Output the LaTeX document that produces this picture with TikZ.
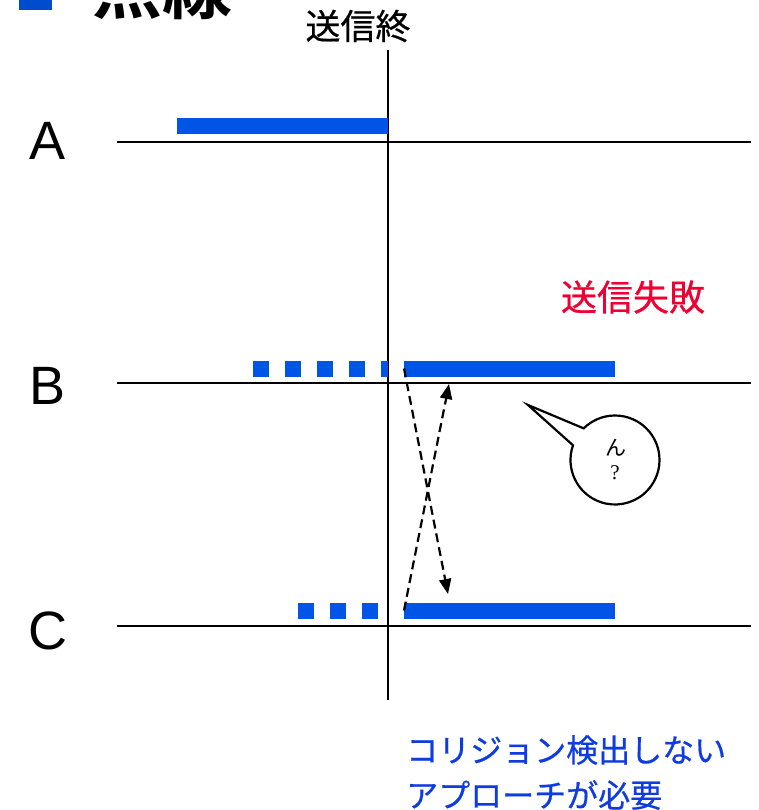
\documentclass[tikz,border=0pt]{standalone}
\usepackage{fontspec}
\setmainfont{Liberation Sans}
\newfontfamily\serifq{Liberation Serif}
\newfontfamily\cjk[FakeBold=0.6]{Noto Sans CJK JP}
\newfontfamily\cjkthin{Noto Sans CJK JP}
\newfontfamily\cjkbold{Noto Sans CJK JP Bold}
\usetikzlibrary{arrows.meta,shapes.callouts}
\definecolor{barblue}{RGB}{0,85,230}
\definecolor{txtblue}{RGB}{15,60,225}
\definecolor{txtred}{RGB}{240,0,50}
\tikzset{
  axis/.style={line width=2.6pt,black},
  barbox/.style={fill=barblue,draw=none,inner sep=0pt,minimum height=16pt,anchor=west},
  dot/.style={barbox,minimum width=16pt},
  lbl/.style={font=\fontsize{54}{60}\selectfont,inner sep=0pt,anchor=base},
  msg/.style={dashed,dash pattern=on 9pt off 5pt,line width=2.2pt,-{Triangle[length=15pt,width=12pt]}},
}
\begin{document}
\begin{tikzpicture}[x=1pt,y=-1pt]
\useasboundingbox (0,0) rectangle (759,810);
% top-left cut heading
\fill[barblue!90!black] (19,-25) rectangle (52,10);
\node[inner sep=0pt,font=\cjkbold\fontsize{70}{80}\selectfont] (head) at (162,-13) {点線};
\node[inner sep=0pt,font=\cjk\fontsize{35}{40}\selectfont] (end) at (358,26) {送信終};
% axes
\coordinate (vtop) at (388,50);
\coordinate (vbot) at (388,700);
\draw[axis] (vtop) -- (vbot);
\coordinate (aL) at (117,142); \coordinate (aR) at (751,142);
\coordinate (bL) at (117,383); \coordinate (bR) at (751,383);
\coordinate (cL) at (117,626); \coordinate (cR) at (751,626);
\draw[axis] (aL) -- (aR);
\draw[axis] (bL) -- (bR);
\draw[axis] (cL) -- (cR);
% labels
\node[lbl] (A) at (48,160) {A};
\node[lbl] (B) at (48,404) {B};
\node[lbl] (C) at (48,649) {C};
% A bar
\node[barbox,minimum width=211pt] (barA) at (177,126.5) {};
% B dots and bar
\node[dot] (b1) at (253,368.5) {};
\node[dot] (b2) at (285,368.5) {};
\node[dot] (b3) at (317,368.5) {};
\node[dot] (b4) at (349,368.5) {};
\node[barbox,minimum width=7pt] (b5) at (381,368.5) {};
\node[barbox,minimum width=211pt] (barB) at (404,368.5) {};
% C dots and bar
\node[dot] (c1) at (298,610.5) {};
\node[dot] (c2) at (330,610.5) {};
\node[dot] (c3) at (362,610.5) {};
\node[barbox,minimum width=211pt] (barC) at (404,610.5) {};
% messages
\coordinate (tipC) at (448,594);
\coordinate (tipB) at (449,384);
\draw[msg] (barB.west) -- (tipC);
\draw[msg] (barC.west) -- (tipB);
% failure text
\node[inner sep=0pt,font=\cjk\fontsize{36}{42}\selectfont,text=txtred] (fail) at (633,297) {送信失敗};
% bubble
\node[ellipse callout,draw,line width=2.2pt,fill=white,minimum width=89pt,minimum height=89pt,inner sep=0pt,
      callout absolute pointer={(528,405)},callout pointer arc=26] (bubble) at (615,460) {};
\node[inner sep=0pt,font=\cjkthin\fontsize{21}{24}\selectfont] (hm) at (616,448) {ん};
\node[inner sep=0pt,font=\serifq\fontsize{21}{24}\selectfont] (q) at (615,473) {?};
% conclusion
\node[inner sep=0pt,anchor=west,font=\cjk\fontsize{32}{38}\selectfont,text=txtblue] (concl1) at (406,750) {コリジョン検出しない};
\node[inner sep=0pt,anchor=west,font=\cjk\fontsize{32}{38}\selectfont,text=txtblue] (concl2) at (406,795) {アプローチが必要};
\end{tikzpicture}
\end{document}
